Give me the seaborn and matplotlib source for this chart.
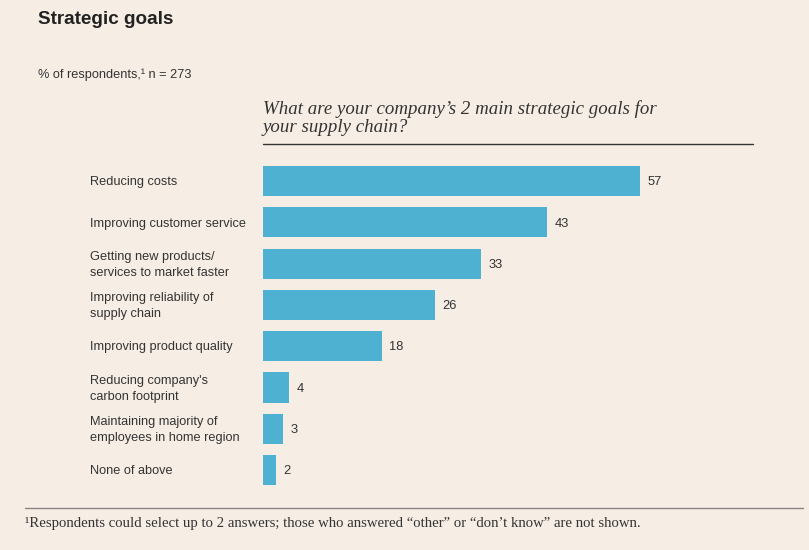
import matplotlib
matplotlib.use('Agg')
import matplotlib.pyplot as plt
import matplotlib.transforms as mtransforms
import seaborn as sns
import pandas as pd

goals = [
    'Reducing costs',
    'Improving customer service',
    'Getting new products/\nservices to market faster',
    'Improving reliability of\nsupply chain',
    'Improving product quality',
    "Reducing company's\ncarbon footprint",
    'Maintaining majority of\nemployees in home region',
    'None of above',
]
shares = [57, 43, 33, 26, 18, 4, 3, 2]

BG = '#f6eee5'
BAR = '#4fb1d2'
TXT = '#333333'
NARROW = ['Liberation Sans', 'DejaVu Sans']
SERIF = ['Liberation Serif', 'DejaVu Serif']

sns.set_theme(style='white')
plt.rcParams['font.family'] = NARROW

df = pd.DataFrame({'goal': goals, 'share': shares})

fig = plt.figure(figsize=(8.09, 5.5), dpi=100)
fig.patch.set_facecolor(BG)
ax = fig.add_axes([263 / 809, 0.1002, 490 / 809, 0.6158])
ax.set_facecolor(BG)

sns.barplot(data=df, y='goal', x='share', color=BAR, width=0.73,
            saturation=1, linewidth=0, ax=ax, orient='h')
ax.set_xlim(0, 74.1)
ax.set_ylim(7.6, -0.6)
for s in ax.spines.values():
    s.set_visible(False)
ax.set_xticks([])
ax.set_yticks([])
ax.set_xlabel('')
ax.set_ylabel('')

# value labels
for i, v in enumerate(shares):
    ax.text(v + 1.1, i + 0.03, str(v), va='center', ha='left', fontsize=9.3,
            color=TXT, family=NARROW)

# category labels, left aligned in figure coords
tr = mtransforms.blended_transform_factory(fig.transFigure, ax.transData)
for i, g in enumerate(goals):
    ax.text(90 / 809, i + 0.03, g, transform=tr, va='center', ha='left',
            fontsize=9.2, color=TXT, family=NARROW, linespacing=1.45)

fig.text(38 / 809, 1 - 19 / 550, 'Strategic goals', fontsize=13.6,
         fontweight='bold', color='#222222', va='center', family=NARROW)
fig.text(38 / 809, 1 - 75 / 550, '% of respondents,\u00b9 n = 273', fontsize=9.2,
         color=TXT, va='center', family=NARROW)
fig.text(263 / 809, 1 - 118 / 550,
         "What are your company\u2019s 2 main strategic goals for\nyour supply chain?",
         fontsize=13.6, style='italic', color=TXT, va='center', family=SERIF,
         linespacing=1.1)

fig.add_artist(plt.Line2D([263 / 809, 753 / 809], [1 - 144 / 550] * 2,
                          color='#333333', lw=1.0, transform=fig.transFigure))
fig.add_artist(plt.Line2D([25 / 809, 803 / 809], [1 - 508 / 550] * 2,
                          color='#8c8480', lw=1.0, transform=fig.transFigure))

fig.text(25 / 809, 1 - 524 / 550,
         '\u00b9Respondents could select up to 2 answers; those who answered '
         '\u201cother\u201d or \u201cdon\u2019t know\u201d are not shown.',
         fontsize=10.6, color=TXT, va='center', family=SERIF)

fig.savefig('out.png', dpi=100, facecolor=BG)
